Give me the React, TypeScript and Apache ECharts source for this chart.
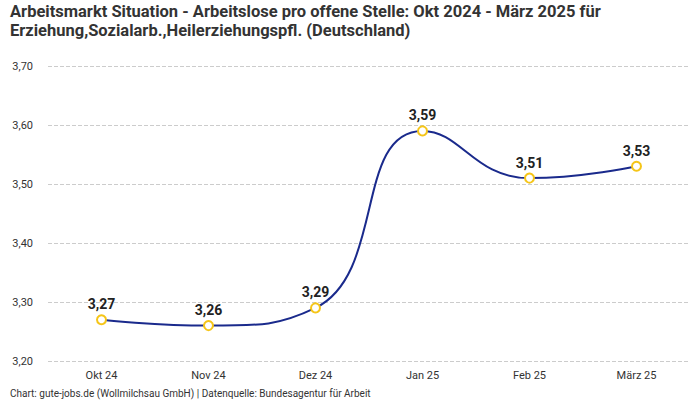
import React, { useEffect, useRef } from "react";
import * as echarts from "echarts";

const categories = ["Okt 24", "Nov 24", "Dez 24", "Jan 25", "Feb 25", "März 25"];
const values = [3.27, 3.26, 3.29, 3.59, 3.51, 3.53];
const titleLines = [
  "Arbeitsmarkt Situation - Arbeitslose pro offene Stelle: Okt 2024 - März 2025 für",
  "Erziehung,Sozialarb.,Heilerziehungspfl. (Deutschland)",
];
const footer = "Chart: gute-jobs.de (Wollmilchsau GmbH) | Datenquelle: Bundesagentur für Arbeit";

const fmt = (v: number) => v.toFixed(2).replace(".", ",");

export default function App() {
  const ref = useRef<HTMLDivElement>(null);
  useEffect(() => {
    const chart = echarts.init(ref.current!, null, { renderer: "svg" });
    chart.setOption({
      animation: false,
      textStyle: { fontFamily: "Roboto" },
      graphic: [
        {
          type: "text",
          left: 10,
          top: 2,
          style: {
            text: titleLines.join("\n"),
            fontSize: 16.5,
            fontWeight: "bold",
            fill: "#333",
            lineHeight: 19,
            fontFamily: "Roboto",
          },
        },
        {
          type: "text",
          left: 10,
          top: 388,
          style: { text: footer, fontSize: 10, fill: "#333", fontFamily: "Roboto" },
        },
      ],
      grid: { left: 48, right: 10, top: 66, bottom: 39 },
      xAxis: {
        type: "category",
        data: categories,
        boundaryGap: true,
        axisLine: { show: false },
        axisTick: { show: false },
        axisLabel: { color: "#333", fontSize: 11, margin: 9 },
      },
      yAxis: {
        type: "value",
        min: 3.2,
        max: 3.7,
        interval: 0.1,
        axisLabel: { color: "#333", fontSize: 11, formatter: (v: number) => fmt(v), margin: 15 },
        splitLine: { lineStyle: { type: "dashed", color: "#ccc" } },
      },
      series: [
        {
          type: "line",
          data: values,
          smooth: true,
          symbol: "circle",
          symbolSize: 9,
          lineStyle: { color: "#1a2a8c", width: 2 },
          itemStyle: { color: "#fff", borderColor: "#f5c518", borderWidth: 2 },
          label: {
            show: true,
            position: "top",
            formatter: (p: any) => fmt(p.value),
            fontSize: 14,
            fontWeight: "bold",
            color: "#222",
            distance: 3,
          },
        },
      ],
    });
    return () => chart.dispose();
  }, []);
  return <div ref={ref} style={{ position: "absolute", left: 0, top: 0, width: 700, height: 400 }} />;
}
